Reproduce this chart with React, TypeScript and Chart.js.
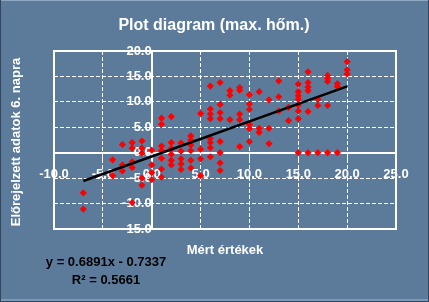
import React, { useEffect, useRef } from "react";
import { Chart, registerables } from "chart.js";

Chart.register(...registerables);

const titleText = "Plot diagram (max. hőm.)";
const xAxisTitle = "Mért értékek";
const yAxisTitle = "Előrejelzett adatok 6. napra";

// Measured values (x) and 6-day forecast values (y), one entry per point
const measured: number[] = [
  -7, -7, -4, -4, -3, -3, -3, -2, -2, -2, -2, -2, -1, -1, -1, -1, -1, 0, 0, 0, 0,
  1, 1, 1, 1, 1, 1, 1, 2, 2, 2, 2, 2, 2, 3, 3, 3, 3, 3, 4, 4, 4, 4, 4, 4, 5, 5, 5, 5,
  6, 6, 6, 6, 6, 6, 6, 6, 7, 7, 7, 7, 7, 7, 7, 7, 8, 8, 8, 9, 9, 9, 9, 9,
  10, 10, 10, 10, 10, 10, 11, 11, 11, 12, 12, 12, 13, 13, 13, 14, 14,
  15, 15, 15, 15, 15, 15, 15, 15, 16, 16, 16, 16, 16, 16, 17, 17, 17,
  18, 18, 18, 18, 18, 19, 19, 19, 20, 20, 20,
];

const forecast: number[] = [
  -7.9, -11.1, -1.4, -4.5, 1.6, -2.4, -3.6, 2.0, 0.9, -1.8, -2.9, -9.8,
  2.3, 0.9, -0.1, -5.0, -6.4, 0.5, -2.4, -3.9, -5.3,
  6.8, 5.6, 1.3, 0.4, -1.1, -3.2, -4.8, 7.1, 2.0, 0.8, -0.3, -1.5, -2.4,
  1.9, 0.3, -1.2, -2.2, -3.3, 3.3, 2.5, 1.5, 0.4, -1.5, -3.0, 7.7, 0.7, -1.2, -4.5,
  13.1, 8.6, 7.6, 6.7, 2.8, 2.0, 1.0, -0.8, 13.8, 9.5, 7.9, 6.7, 2.2, 0.0, -2.0, -3.5,
  12.2, 11.3, 6.5, 12.8, 12.3, 7.6, 6.5, 1.2,
  11.4, 9.6, 8.5, 5.6, 4.7, 2.2, 12.0, 4.8, 4.0, 10.4, 4.8, 1.8, 14.1, 11.0, 8.2, 8.9, 6.3,
  13.5, 12.0, 11.2, 10.5, 9.4, 8.2, 6.7, 0, 15.9, 13.8, 12.9, 12.2, 8.1, 0, 10.5, 9.3, 0,
  15.2, 14.6, 14.0, 9.3, 0, 13.6, 13.0, 0, 17.9, 16.3, 15.5,
];

const xTickValues = [-10, -5, 0, 5, 10, 15, 20, 25];
const yTickValues = [-15, -10, -5, 0, 5, 10, 15, 20];

const trendSlope = 0.6891;
const trendIntercept = -0.7337;
const trendR2 = 0.5661;
const trendRange = [-7, 20];

const BG = "#5c7b9b";
const FONT = "'Liberation Sans', Arial, sans-serif";
const DASH_ON = 4;
const DASH_OFF = 2;

function drawGrid(chart: any) {
  const { ctx, chartArea, scales } = chart;
  if (!chartArea || !scales.x || !scales.y) return;
  const left = Math.round(chartArea.left);
  const right = Math.round(chartArea.right);
  const top = Math.round(chartArea.top);
  const bottom = Math.round(chartArea.bottom);
  ctx.save();
  ctx.globalAlpha = 1;
  ctx.globalCompositeOperation = "source-over";
  ctx.fillStyle = "#ffffff";
  xTickValues.forEach((v) => {
    if (v === 0) return;
    const px = Math.floor(scales.x.getPixelForValue(v));
    for (let y = top; y < bottom; y += DASH_ON + DASH_OFF) {
      ctx.fillRect(px, y, 1, Math.min(DASH_ON, bottom - y));
    }
  });
  yTickValues.forEach((v) => {
    if (v === 0) return;
    const py = Math.floor(scales.y.getPixelForValue(v));
    for (let x = left; x < right; x += DASH_ON + DASH_OFF) {
      ctx.fillRect(x, py, Math.min(DASH_ON, right - x), 1);
    }
  });
  // frame
  ctx.fillRect(left - 1, top - 1, right - left + 2, 2);
  ctx.fillRect(left - 1, bottom - 1, right - left + 2, 2);
  ctx.fillRect(left - 1, top - 1, 2, bottom - top + 2);
  ctx.fillRect(right - 1, top - 1, 2, bottom - top + 2);
  ctx.restore();
}

const backgroundPlugin = {
  id: "background",
  beforeDraw(chart: any) {
    const { ctx, width, height } = chart;
    ctx.save();
    ctx.fillStyle = BG;
    ctx.fillRect(0, 0, width, height);
    ctx.fillStyle = "#8ea8c2";
    ctx.fillRect(0, 0, width, 1);
    ctx.fillStyle = "#2e4660";
    ctx.fillRect(0, 0, 1, height);
    ctx.fillRect(width - 1, 0, 1, height);
    ctx.fillRect(0, height - 1, width, 1);
    ctx.fillStyle = "#7d98b4";
    ctx.fillRect(1, height - 3, width - 2, 2);
    ctx.restore();
    drawGrid(chart);
  },
};

const textPlugin = {
  id: "texts",
  afterDraw(chart: any) {
    const { ctx, chartArea } = chart;
    ctx.save();
    ctx.fillStyle = "#ffffff";
    ctx.textAlign = "center";
    ctx.textBaseline = "alphabetic";
    ctx.font = `bold 16px ${FONT}`;
    ctx.fillText(titleText, 214, 30);
    ctx.font = `bold 13px ${FONT}`;
    ctx.fillText(xAxisTitle, (chartArea.left + chartArea.right) / 2, 254);
    ctx.save();
    ctx.translate(19.5, (chartArea.top + chartArea.bottom) / 2 + 2);
    ctx.rotate(-Math.PI / 2);
    ctx.fillText(yAxisTitle, 0, 0);
    ctx.restore();
    ctx.fillStyle = "#000000";
    const sign = trendIntercept < 0 ? "-" : "+";
    ctx.fillText(
      `y = ${trendSlope.toFixed(4)}x ${sign} ${Math.abs(trendIntercept).toFixed(4)}`,
      106,
      266
    );
    ctx.fillText(`R² = ${trendR2.toFixed(4)}`, 106, 284);
    ctx.restore();
  },
};

export default function App() {
  const ref = useRef<HTMLCanvasElement>(null);

  useEffect(() => {
    document.body.style.margin = "0";
    const canvas = ref.current;
    if (!canvas) return;

    const points = measured.map((x, i) => ({ x, y: forecast[i] }));
    const trend = trendRange.map((x) => ({ x, y: trendSlope * x + trendIntercept }));
    const tickFont = { family: FONT, size: 13, weight: "bold" as const };

    const chart = new Chart(canvas, {
      type: "scatter",
      data: {
        datasets: [
          {
            label: "trend",
            data: trend,
            showLine: true,
            fill: false,
            borderColor: "#000000",
            borderWidth: 2.5,
            pointRadius: 0,
            order: 0,
          },
          {
            label: "points",
            data: points,
            fill: false,
            pointStyle: "rectRot",
            pointRadius: 3.6,
            backgroundColor: "#ff0000",
            borderColor: "#ff0000",
            borderWidth: 0,
            order: 1,
          },
        ],
      },
      options: {
        animation: false,
        responsive: false,
        maintainAspectRatio: false,
        layout: { padding: { left: 54, right: 33, top: 51, bottom: 73 } },
        plugins: {
          legend: { display: false },
          title: { display: false },
          tooltip: { enabled: false },
        },
        scales: {
          x: {
            type: "linear",
            position: { y: 0 } as any,
            min: xTickValues[0],
            max: xTickValues[xTickValues.length - 1],
            afterBuildTicks: (scale: any) => {
              scale.ticks = xTickValues.map((v) => ({ value: v }));
            },
            ticks: {
              color: "#ffffff",
              font: tickFont,
              padding: 9,
              autoSkip: false,
              maxRotation: 0,
              callback: (v: any) => Number(v).toFixed(1),
            },
            grid: { color: "#ffffff", lineWidth: 1, tickLength: 5, drawOnChartArea: false },
            border: { color: "#ffffff", width: 2 },
          },
          y: {
            type: "linear",
            position: { x: 0 } as any,
            min: yTickValues[0],
            max: yTickValues[yTickValues.length - 1],
            afterBuildTicks: (scale: any) => {
              scale.ticks = yTickValues.map((v) => ({ value: v }));
            },
            ticks: {
              color: "#ffffff",
              font: tickFont,
              padding: 7,
              autoSkip: false,
              callback: (v: any) => Number(v).toFixed(1),
            },
            grid: { color: "#ffffff", lineWidth: 1, tickLength: 4, drawOnChartArea: false },
            border: { color: "#ffffff", width: 2 },
          },
        },
      },
      plugins: [backgroundPlugin, textPlugin],
    });

    return () => chart.destroy();
  }, []);

  return (
    <div style={{ width: 429, height: 302 }}>
      <canvas ref={ref} width={429} height={302} style={{ display: "block" }} />
    </div>
  );
}
